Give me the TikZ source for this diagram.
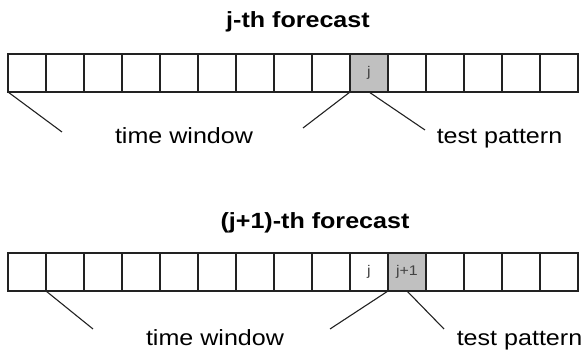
\documentclass[tikz,border=0pt]{standalone}
\usepackage{fontspec}
\setmainfont{Liberation Sans}
\newfontfamily\widefont[FakeStretch=1.14]{Liberation Sans}
\definecolor{ink}{HTML}{222222}
\definecolor{shade}{HTML}{C0C0C0}
\begin{document}
\begin{tikzpicture}[x=1pt,y=-1pt,
  cell/.style={draw=ink, line width=1.1pt, minimum width=38pt, minimum height=38pt,
    inner sep=0pt, outer sep=0pt, anchor=north west,
    font=\widefont\fontsize{14}{16}\selectfont, text=ink!85},
  testcell/.style={cell, fill=shade},
  title/.style={anchor=base, font=\widefont\bfseries\fontsize{22}{26}\selectfont},
  caption/.style={anchor=base, font=\widefont\fontsize{22}{26}\selectfont},
  pointer/.style={draw=ink, line width=1.1pt}]
\useasboundingbox (0,0) rectangle (582,352);

% first forecast: test pattern is cell j
\node[title] (t1) at (298,28) {j-th forecast};
\foreach \i in {0,...,8,10,11,12,13,14}
  \node[cell] (a\i) at ({8+38*\i},54) {};
\node[testcell] (a9) at ({8+38*9},54) {j};
\coordinate (a-tw) at (62,132);
\coordinate (a-tl) at (303,128);
\coordinate (a-tp) at (425,130);
\draw[pointer] (a0.south west) -- (a-tw);
\draw[pointer] (a9.south west) -- (a-tl);
\draw[pointer] (a9.south) -- (a-tp);
\node[caption] (a-win) at (184,144) {time window};
\node[caption] (a-test) at (499.5,144) {test pattern};

% next forecast: window shifted by one, test pattern is cell j+1
\node[title] (t2) at (315,229) {(j+1)-th forecast};
\foreach \i in {0,...,8,11,12,13,14}
  \node[cell] (b\i) at ({8+38*\i},253) {};
\node[cell] (b9) at ({8+38*9},253) {j};
\node[testcell] (b10) at ({8+38*10},253) {j+1};
\coordinate (b-tw) at (93,329);
\coordinate (b-tl) at (330,329);
\coordinate (b-tp) at (444,329);
\draw[pointer] (b1.south west) -- (b-tw);
\draw[pointer] (b10.south west) -- (b-tl);
\draw[pointer] (b10.south) -- (b-tp);
\node[caption] (b-win) at (215,346) {time window};
\node[caption] (b-test) at (519.5,346) {test pattern};
\end{tikzpicture}
\end{document}
